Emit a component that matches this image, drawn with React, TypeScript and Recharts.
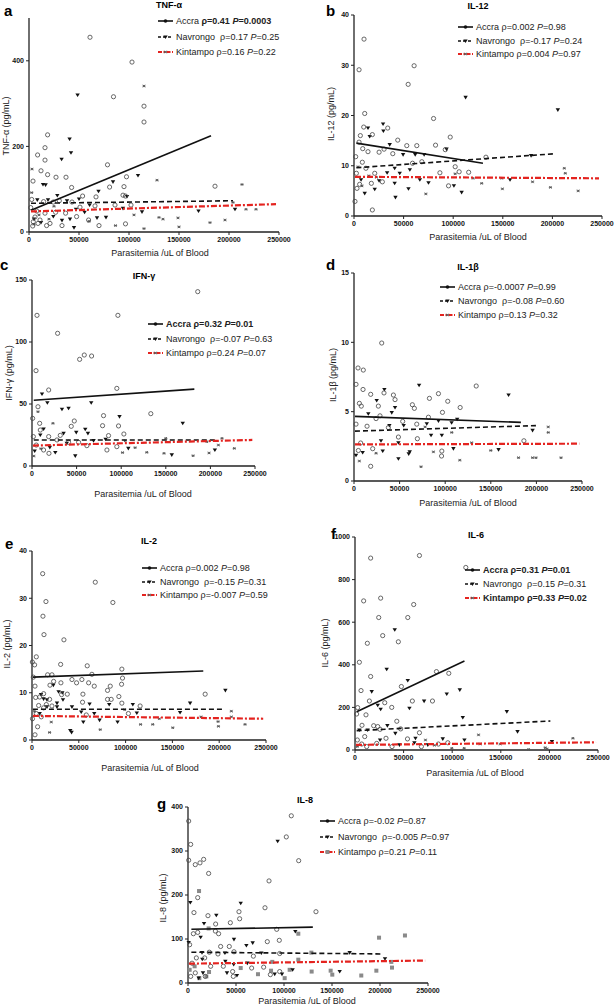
import React from "react";
import { ScatterChart, Scatter, XAxis, YAxis } from "recharts";

type Pt = [number, number];

// parasitemia (/uL) vs cytokine (pg/mL)
const tnfAccra: Pt[] = [[61000,455],[103000,397],[84500,316],[115000,294],[115000,257],[18600,227],[16000,197],[16000,168],[8600,180],[12000,143],[18600,134],[27000,128],[37000,128],[78500,157],[97500,129],[186000,107],[42600,104],[4000,119],[80600,105],[95000,106],[94000,86],[96500,84],[53600,84],[67000,82],[14600,71],[24300,70],[30300,73],[43000,70],[51000,58],[66000,61],[86000,63],[102000,63],[2700,76],[1700,57],[7700,49],[16000,44],[26600,46],[36600,44],[47600,36],[59600,28],[70000,15],[96500,19],[33000,15],[4300,24],[11000,28],[21000,20],[3700,14],[17600,15],[6000,35],[9000,20]];
const tnfNavrongo: Pt[] = [[48600,320],[40600,217],[42000,185],[32600,170],[14000,111],[16600,110],[109000,132],[84000,117],[69500,95],[50000,77],[28300,85],[38000,73],[98000,83],[47000,53],[55600,46],[77000,34],[94000,55],[113000,47],[41000,30],[33000,27],[45000,10],[169500,49],[206000,53],[68000,33],[8300,75],[19000,75],[60600,63],[24300,36],[5000,30],[12000,22]];
const tnfKintampo: Pt[] = [[115000,341],[3000,147],[128000,121],[213000,111],[2700,92],[134000,30],[150000,12],[181000,22],[196000,28],[217000,53],[227000,53],[115000,8],[86500,15],[105000,40],[204000,69],[130000,34],[149000,33],[10000,40],[20000,30],[5000,18],[60000,25],[25000,60]];
const tnfFitAccra: Pt[] = [[2000,51],[182000,225]];
const tnfFitNavrongo: Pt[] = [[2000,67],[204000,73]];
const tnfFitKintampo: Pt[] = [[2000,48],[247000,65]];

const il12Accra: Pt[] = [[10100,35.2],[5100,29.1],[60600,29.9],[54600,26.2],[10800,20.4],[80200,19.4],[9800,17.7],[34000,17.5],[6400,16],[18500,16.2],[97000,15.7],[44100,15.1],[53200,14],[63300,14],[82200,14.1],[30300,13.3],[25300,12.7],[8800,13.4],[5100,14.7],[1700,11.8],[8400,10.7],[39100,12.4],[14100,12.8],[92000,13.2],[102000,9.8],[133000,11.7],[106000,8.8],[115600,8.7],[59000,10.5],[86600,8.6],[95300,6],[20900,8.5],[17500,6.5],[18500,1.2],[1000,2.9],[5700,6.3],[28600,6.8],[2400,8.5],[68400,10.8],[3000,5.5],[12000,9.5]];
const il12Navrongo: Pt[] = [[112500,23.6],[205500,21.1],[29300,18.3],[14100,17.5],[29600,16.9],[36000,14.2],[15800,15.8],[49500,12.2],[61700,12.2],[93300,13.3],[70700,12.2],[41000,9.5],[56300,9.2],[46100,8.5],[33400,8.6],[41000,6.5],[41800,3.7],[54900,5.4],[66400,7.2],[75100,6.6],[100700,6],[108500,4.7],[10800,4.5],[20900,5.3],[157300,7.2],[178500,12],[25300,7],[7100,7.2]];
const il12Kintampo: Pt[] = [[212000,9.5],[213000,8.5],[226000,5],[198000,5.7],[149600,5.4],[180000,6.8],[128700,6.5],[72400,4.4],[120000,7.5],[149000,7.5],[102000,8.4],[4000,9.8],[22600,7.7],[8000,6],[15000,8]];
const il12FitAccra: Pt[] = [[2400,14.5],[130000,10.5]];
const il12FitNavrongo: Pt[] = [[2400,9.6],[203000,12.4]];
const il12FitKintampo: Pt[] = [[1000,7.8],[247000,7.5]];

const ifnAccra: Pt[] = [[185800,140.6],[5600,121.5],[96300,121.5],[28700,107],[4500,76.9],[53400,86],[58600,89.5],[66800,88.7],[18700,61.3],[95100,62.6],[6700,47.8],[8600,34.4],[133200,42.2],[47400,36.3],[80200,40.6],[44000,32],[79100,32.5],[97000,32.3],[85800,24.5],[103000,25.8],[31700,24.7],[18700,23.7],[1500,23.7],[95100,15.6],[84000,12.9],[41000,19.1],[52200,19.1],[61500,16.4],[9300,29],[700,38.4],[4800,16.9],[13000,12.9],[19000,10.2],[28000,21]];
const ifnNavrongo: Pt[] = [[11200,58],[17200,51],[33600,45.7],[41000,46.5],[66400,51],[59700,29.6],[62700,26.3],[49600,27.1],[169000,34.4],[98100,39.8],[13000,29.8],[9300,25],[26100,10.8],[48500,8.1],[82500,21.5],[108000,14.2],[156700,8.9],[205000,12.9],[39000,18.3],[35400,26.3],[69000,20.4],[3000,12],[20000,15]];
const ifnKintampo: Pt[] = [[23500,34.4],[6700,43.8],[150000,22.3],[148000,10.2],[180600,8.3],[198500,10.5],[213000,22.3],[226800,14.2],[128700,11],[104500,20.4],[101500,10.8],[115600,14.8],[196000,19.6],[209000,16.9],[2000,8],[10000,14]];
const ifnFitAccra: Pt[] = [[2000,53],[182000,62]];
const ifnFitNavrongo: Pt[] = [[2000,21],[205000,21]];
const ifnFitKintampo: Pt[] = [[1000,16.5],[247000,21]];

const il1bAccra: Pt[] = [[30400,9.95],[4400,8.15],[10200,8],[2200,6.97],[9900,6.6],[32900,6.35],[134000,6.85],[43200,6.2],[92600,6.3],[82700,5.96],[102800,5.75],[45000,5.87],[18300,6.25],[26700,5.4],[64000,5.5],[66200,5.24],[116400,5.3],[8000,5.4],[5900,5.6],[81600,4.6],[97000,4.95],[53400,4.3],[68800,4.1],[2200,4.1],[14300,3.95],[37700,3.85],[48700,3.17],[69500,3.05],[186300,2.9],[96300,2.16],[96000,1.8],[18300,1.06],[20500,2.33],[7300,2.74],[4800,2.2],[24200,4.5],[28500,4.7]];
const il1bNavrongo: Pt[] = [[71400,6.9],[169500,6.2],[33300,6.6],[45000,5.3],[24900,5.8],[15700,4.85],[41400,4.93],[92600,4.33],[79800,4.13],[113100,4.45],[54500,4],[38800,4],[195800,3.65],[84500,3.3],[96300,3.3],[29600,2.9],[48700,2.76],[61100,2.1],[48700,1.6],[60000,1.95],[109000,2.33],[2200,1.85],[9500,2.05],[31500,2.16],[107000,4.2],[158500,2.26]];
const il1bKintampo: Pt[] = [[73500,1.03],[116000,1.5],[129000,2.76],[150000,2.2],[180400,1.68],[195800,1.68],[199500,1.68],[227000,1.68],[213000,3.9],[213000,3.5],[87100,2.1],[5900,1.44],[78000,3.9],[107200,3.5],[24200,2]];
const il1bFitAccra: Pt[] = [[1100,4.66],[183000,4.23]];
const il1bFitNavrongo: Pt[] = [[1100,3.6],[202000,4]];
const il1bFitKintampo: Pt[] = [[1100,2.64],[247000,2.69]];

const il2Accra: Pt[] = [[11400,35.2],[67600,33.4],[86400,29.1],[14900,29.3],[11700,26.2],[12800,22.3],[34100,21.2],[4600,17.6],[400,16.5],[2800,15.9],[30600,16],[59000,15.7],[96000,15],[21300,13.8],[16700,13.8],[1400,13.3],[64000,13.9],[96700,13.1],[23100,12.4],[30900,12.1],[3200,11.4],[42700,12.8],[53300,12.8],[60500,12.1],[66500,11.4],[95700,11.8],[80700,10.5],[83600,11.4],[19200,11.6],[47600,12.1],[12400,9.8],[31600,9.6],[37700,9.7],[54400,9.7],[92800,9.2],[185000,9.7],[3900,9],[8200,9.1],[18800,8.6],[80700,8.6],[84600,8.6],[54000,8],[96000,7.8],[7100,7.3],[15300,7.5],[21300,7.2],[12400,6.8],[4600,5.6],[9900,4.9],[3200,1.1],[103000,5.6],[115500,7.2],[500,4.5],[58000,5.3],[6000,2.8]];
const il2Navrongo: Pt[] = [[206600,10.5],[168900,7.8],[22800,11.6],[28400,10.2],[32400,10],[33100,8.5],[26700,7.8],[9600,9.6],[12400,8.7],[16000,8.5],[16000,7],[26700,7],[42700,7],[52600,5.9],[40900,2],[42300,1.6],[54800,3.8],[72200,4.2],[82500,7.5],[91400,3.8],[107700,7.5],[112000,5.7],[158200,5.8],[61500,7.6],[66500,5.6],[8200,5.6]];
const il2Kintampo: Pt[] = [[213000,6.1],[213000,4.9],[227600,3.3],[198800,3.9],[199200,2.9],[150400,2.6],[129000,3.3],[116000,3.3],[99000,6.4],[72900,2.2],[18800,1.6],[20600,3.8],[2500,6.1],[180600,4.9],[136000,4.5]];
const il2FitAccra: Pt[] = [[1000,13.3],[183000,14.6]];
const il2FitNavrongo: Pt[] = [[1000,6.5],[205000,6.5]];
const il2FitKintampo: Pt[] = [[1000,5.1],[247000,4.5]];

const il6Accra: Pt[] = [[66300,913],[16100,901],[114000,857],[8900,700],[26400,713],[60400,683],[24400,622],[54300,622],[28500,537],[12700,501],[44600,508],[4500,412],[16100,345],[83800,368],[96500,360],[47700,298],[6200,279],[14800,230],[30600,222],[59000,230],[79700,230],[2700,199],[1700,169],[11300,165],[37800,200],[43000,135],[19200,114],[7200,116],[23400,110],[47000,99],[10000,63],[25800,97],[31900,55],[66300,81],[54000,52],[95500,34],[85800,28],[6900,28],[12000,16],[68300,16],[2400,47],[22300,31],[38100,16]];
const il6Navrongo: Pt[] = [[40900,564],[32600,379],[54300,326],[17200,274],[94400,263],[107800,282],[71100,229],[156200,180],[23400,210],[26400,191],[56000,196],[110900,152],[167200,86],[33300,114],[41500,78],[13000,94],[25800,47],[62200,55],[90300,52],[112600,47],[45700,24],[74900,24],[202600,39],[61100,34],[4500,94]];
const il6Kintampo: Pt[] = [[224200,55],[127100,71],[195700,11],[197500,5],[178600,3],[112300,8],[72500,47],[99600,8],[81700,22],[128800,28],[2400,16],[149400,28]];
const il6FitAccra: Pt[] = [[1700,180],[112600,418]];
const il6FitNavrongo: Pt[] = [[1700,91],[201000,136]];
const il6FitKintampo: Pt[] = [[1000,24],[248000,36]];

const il8Accra: Pt[] = [[107600,380],[102400,332],[700,368],[2800,315],[700,279],[7600,269],[12500,273],[16300,281],[115300,278],[21500,249],[84400,232],[80200,171],[133300,162],[6200,160],[53100,162],[53800,146],[20800,153],[10100,194],[44100,137],[28800,134],[92400,122],[10100,115],[5600,112],[28500,118],[31900,112],[95100,97],[82600,94],[34000,83],[43000,83],[1700,87],[17400,57],[22200,70],[47900,71],[31200,66],[68100,61],[95500,67],[8700,57],[4200,45],[23600,38],[36800,38],[46500,26],[78800,36],[66300,34],[47200,15],[7600,23],[2800,15],[18000,15],[85800,19],[95500,26]];
const il8Navrongo: Pt[] = [[93400,322],[54900,181],[2400,183],[29500,154],[16700,135],[111800,117],[47900,99],[13200,104],[700,92],[60800,85],[67400,91],[14600,69],[38500,68],[76400,68],[168400,69],[205200,55],[14900,54],[38900,49],[47600,42],[61800,45],[51000,17],[40600,23],[90300,20],[97900,20],[109000,30],[158000,26],[15600,23],[11100,11]];
const il8Kintampo: Pt[] = [[11500,209],[21500,124],[114900,112],[199000,103],[226000,108],[128500,69],[114900,53],[211800,48],[212500,35],[105900,30],[128800,26],[148600,28],[150300,19],[196200,28],[180500,17],[100700,11],[87800,48],[86500,28],[72900,20],[54900,34],[19100,15],[11800,11],[1700,30],[6900,38],[21900,25]];
const il8FitAccra: Pt[] = [[3500,122],[130000,127]];
const il8FitNavrongo: Pt[] = [[3500,70],[203000,66]];
const il8FitKintampo: Pt[] = [[1000,44],[247000,51]];

const xTicks = [0, 50000, 100000, 150000, 200000, 250000];
const sites = ["Accra", "Navrongo", "Kintampo"];

// [rho, P, bold] per site: Accra, Navrongo, Kintampo
const tnfStats: [string, string, number][] = [["0.41", "0.0003", 1], ["0.17", "0.25", 0], ["0.16", "0.22", 0]];
const il12Stats: [string, string, number][] = [["0.002", "0.98", 0], ["-0.17", "0.24", 0], ["0.004", "0.97", 0]];
const ifnStats: [string, string, number][] = [["0.32", "0.01", 2], ["-0.07", "0.63", 0], ["0.24", "0.07", 0]];
const il1bStats: [string, string, number][] = [["-0.0007", "0.99", 0], ["-0.08", "0.60", 0], ["0.13", "0.32", 0]];
const il2Stats: [string, string, number][] = [["0.002", "0.98", 0], ["-0.15", "0.31", 0], ["-0.007", "0.59", 0]];
const il6Stats: [string, string, number][] = [["0.31", "0.01", 2], ["0.15", "0.31", 0], ["0.33", "0.02", 2]];
const il8Stats: [string, string, number][] = [["-0.02", "0.87", 0], ["-0.005", "0.97", 0], ["0.21", "0.11", 0]];

const FONT = "'Liberation Sans', Arial, Helvetica, sans-serif";
const RED = "#e4231f";
const toXY = (arr: Pt[]) => arr.map(([x, y]) => ({ x, y }));

const OpenCircle = (p: any) =>
  p.cx == null ? <g /> : <circle cx={p.cx} cy={p.cy} r={2.1} fill="none" stroke="#444" strokeWidth={0.8} />;
const DownTri = (p: any) =>
  p.cx == null ? <g /> : (
    <path d={`M${p.cx - 2.2},${p.cy - 1.6}L${p.cx + 2.2},${p.cy - 1.6}L${p.cx},${p.cy + 2}Z`} fill="#111" />
  );
const Star = (p: any) =>
  p.cx == null ? <g /> : (
    <g stroke="#555" strokeWidth={0.9}>
      <line x1={p.cx - 1.6} y1={p.cy} x2={p.cx + 1.6} y2={p.cy} />
      <line x1={p.cx - 1.1} y1={p.cy - 1.3} x2={p.cx + 1.1} y2={p.cy + 1.3} />
      <line x1={p.cx - 1.1} y1={p.cy + 1.3} x2={p.cx + 1.1} y2={p.cy - 1.3} />
    </g>
  );
const GraySquare = (p: any) =>
  p.cx == null ? <g /> : <rect x={p.cx - 2} y={p.cy - 2} width={4} height={4} fill="#8a8a8a" />;
const NoDot = () => <g />;

const lineStyles = [
  { stroke: "#111", strokeWidth: 1.6 },
  { stroke: "#111", strokeWidth: 1.6, strokeDasharray: "5 3" },
  { stroke: RED, strokeWidth: 2.2, strokeDasharray: "6 2 2 2" },
];

type PanelCfg = {
  letter: string; title: string; yLabel: string; yMax: number; yTicks: number[];
  left: number; right: number; top: number; bottom: number;
  letterPos: [number, number]; titlePos: [number, number]; yLabelPos: [number, number]; xLabelPos: [number, number];
  legend: [number, number, number];
  accra: Pt[]; navrongo: Pt[]; kintampo: Pt[]; fits: Pt[][]; stats: [string, string, number][];
  kinShape: any;
};

const panels: PanelCfg[] = [
  { letter: "a", title: "TNF-α", yLabel: "TNF-α (pg/mL)", yMax: 500, yTicks: [0, 200, 400],
    left: 29, right: 279, top: 18, bottom: 232, letterPos: [4, 3], titlePos: [169, 5], yLabelPos: [6, 126], xLabelPos: [160, 253],
    legend: [158, 21, 15.5], accra: tnfAccra, navrongo: tnfNavrongo, kintampo: tnfKintampo,
    fits: [tnfFitAccra, tnfFitNavrongo, tnfFitKintampo], stats: tnfStats, kinShape: Star },
  { letter: "b", title: "IL-12", yLabel: "IL-12 (pg/mL)", yMax: 40, yTicks: [0, 10, 20, 30, 40],
    left: 354, right: 602, top: 15, bottom: 216, letterPos: [326, 3], titlePos: [478, 6], yLabelPos: [331, 114], xLabelPos: [478, 237],
    legend: [458, 27, 13.7], accra: il12Accra, navrongo: il12Navrongo, kintampo: il12Kintampo,
    fits: [il12FitAccra, il12FitNavrongo, il12FitKintampo], stats: il12Stats, kinShape: Star },
  { letter: "c", title: "IFN-γ", yLabel: "IFN-γ (pg/mL)", yMax: 150, yTicks: [0, 50, 100, 150],
    left: 32, right: 255, top: 280, bottom: 466, letterPos: [0, 257], titlePos: [144, 276], yLabelPos: [9, 373], xLabelPos: [143, 494],
    legend: [148, 324, 14.5], accra: ifnAccra, navrongo: ifnNavrongo, kintampo: ifnKintampo,
    fits: [ifnFitAccra, ifnFitNavrongo, ifnFitKintampo], stats: ifnStats, kinShape: Star },
  { letter: "d", title: "IL-1β", yLabel: "IL-1β (pg/mL)", yMax: 15, yTicks: [0, 5, 10, 15],
    left: 354, right: 582, top: 273, bottom: 481, letterPos: [326, 257], titlePos: [468, 267], yLabelPos: [333, 375], xLabelPos: [468, 503],
    legend: [440, 287, 14], accra: il1bAccra, navrongo: il1bNavrongo, kintampo: il1bKintampo,
    fits: [il1bFitAccra, il1bFitNavrongo, il1bFitKintampo], stats: il1bStats, kinShape: Star },
  { letter: "e", title: "IL-2", yLabel: "IL-2 (pg/mL)", yMax: 40, yTicks: [0, 10, 20, 30, 40],
    left: 32, right: 266, top: 551, bottom: 740, letterPos: [5, 536], titlePos: [149, 541], yLabelPos: [7, 644], xLabelPos: [150, 768],
    legend: [142, 568, 13.5], accra: il2Accra, navrongo: il2Navrongo, kintampo: il2Kintampo,
    fits: [il2FitAccra, il2FitNavrongo, il2FitKintampo], stats: il2Stats, kinShape: Star },
  { letter: "f", title: "IL-6", yLabel: "IL-6 (pg/mL)", yMax: 1000, yTicks: [0, 200, 400, 600, 800, 1000],
    left: 355, right: 598, top: 537, bottom: 750, letterPos: [331, 526], titlePos: [476, 535], yLabelPos: [325, 643], xLabelPos: [475, 773],
    legend: [465, 570, 14], accra: il6Accra, navrongo: il6Navrongo, kintampo: il6Kintampo,
    fits: [il6FitAccra, il6FitNavrongo, il6FitKintampo], stats: il6Stats, kinShape: Star },
  { letter: "g", title: "IL-8", yLabel: "IL-8 (pg/mL)", yMax: 400, yTicks: [0, 100, 200, 300, 400],
    left: 188, right: 428, top: 807, bottom: 983, letterPos: [157, 796], titlePos: [305, 800], yLabelPos: [163, 898], xLabelPos: [307, 1001],
    legend: [320, 821, 15.5], accra: il8Accra, navrongo: il8Navrongo, kintampo: il8Kintampo,
    fits: [il8FitAccra, il8FitNavrongo, il8FitKintampo], stats: il8Stats, kinShape: GraySquare },
];

function LegendSymbol({ i, kinShape }: { i: number; kinShape: any }) {
  const s = lineStyles[i];
  return (
    <svg width={15} height={8} style={{ display: "block", flex: "none" }}>
      <line x1={0} y1={4} x2={15} y2={4} {...s} strokeDasharray={i === 1 ? "3 2" : i === 2 ? "4 1.5 1.5 1.5" : undefined} />
      {i === 0 && <circle cx={7.5} cy={4} r={1.8} fill="#111" />}
      {i === 1 && <DownTri cx={7.5} cy={4} />}
      {i === 2 && (kinShape === GraySquare ? <GraySquare cx={7.5} cy={4} /> : <Star cx={7.5} cy={4} />)}
    </svg>
  );
}

function Panel({ p }: { p: PanelCfg }) {
  const YW = 40, MT = 6, MR = 24, XH = 22;
  const w = p.right - p.left;
  const h = p.bottom - p.top;
  const txt: React.CSSProperties = { position: "absolute", fontFamily: FONT, color: "#222", fontSize: 9, whiteSpace: "pre", lineHeight: "12px" };
  return (
    <>
      <div style={{ position: "absolute", left: p.left - YW, top: p.top - MT }}>
        <ScatterChart width={w + YW + MR} height={h + MT + XH} margin={{ top: MT, right: MR, bottom: 0, left: 0 }} style={{ overflow: "visible" }}>
          <XAxis type="number" dataKey="x" domain={[0, 250000]} ticks={xTicks} height={XH} interval={0}
            axisLine={{ stroke: "#222", strokeWidth: 1.3 }} tickLine={{ stroke: "#222" }} tickSize={3}
            tick={{ fontSize: 7, fontWeight: 700, fill: "#111", fontFamily: FONT }} />
          <YAxis type="number" dataKey="y" domain={[0, p.yMax]} ticks={p.yTicks} width={YW} interval={0}
            axisLine={{ stroke: "#222", strokeWidth: 1.3 }} tickLine={{ stroke: "#222" }} tickSize={3}
            tick={{ fontSize: 7, fontWeight: 700, fill: "#111", fontFamily: FONT }} />
          <Scatter data={toXY(p.kintampo)} shape={p.kinShape} isAnimationActive={false} />
          <Scatter data={toXY(p.navrongo)} shape={DownTri} isAnimationActive={false} />
          <Scatter data={toXY(p.accra)} shape={OpenCircle} isAnimationActive={false} />
          {p.fits.map((f, i) => (
            <Scatter key={i} data={toXY(f)} shape={NoDot} line={{ ...lineStyles[i], fill: "none" }} isAnimationActive={false} />
          ))}
        </ScatterChart>
      </div>
      <div style={{ ...txt, left: p.letterPos[0], top: p.letterPos[1], fontSize: 15, fontWeight: 700, color: "#000", lineHeight: "15px" }}>{p.letter}</div>
      <div style={{ ...txt, left: p.titlePos[0], top: p.titlePos[1], transform: "translate(-50%,-50%)", fontWeight: 700, color: "#000" }}>{p.title}</div>
      <div style={{ ...txt, left: p.yLabelPos[0], top: p.yLabelPos[1], transform: "translate(-50%,-50%) rotate(-90deg)" }}>{p.yLabel}</div>
      <div style={{ ...txt, left: p.xLabelPos[0], top: p.xLabelPos[1], transform: "translate(-50%,-50%)" }}>Parasitemia /uL of Blood</div>
      {p.stats.map(([rho, pv, bold], i) => (
        <div key={i} style={{ ...txt, left: p.legend[0], top: p.legend[1] + i * p.legend[2] - 6, display: "flex", alignItems: "center" }}>
          <LegendSymbol i={i} kinShape={p.kinShape} />
          <span style={{ marginLeft: 3, fontWeight: bold === 2 ? 700 : 400 }}>
            {sites[i]}{i === 1 ? "  " : " "}
            <span style={{ fontWeight: bold ? 700 : undefined }}>ρ={rho} <i>P</i>={pv}</span>
          </span>
        </div>
      ))}
    </>
  );
}

export default function App() {
  return (
    <div style={{ position: "absolute", left: 0, top: 0, width: 614, height: 1006, background: "#fff", overflow: "hidden" }}>
      {panels.map((p) => (
        <Panel key={p.letter} p={p} />
      ))}
    </div>
  );
}
